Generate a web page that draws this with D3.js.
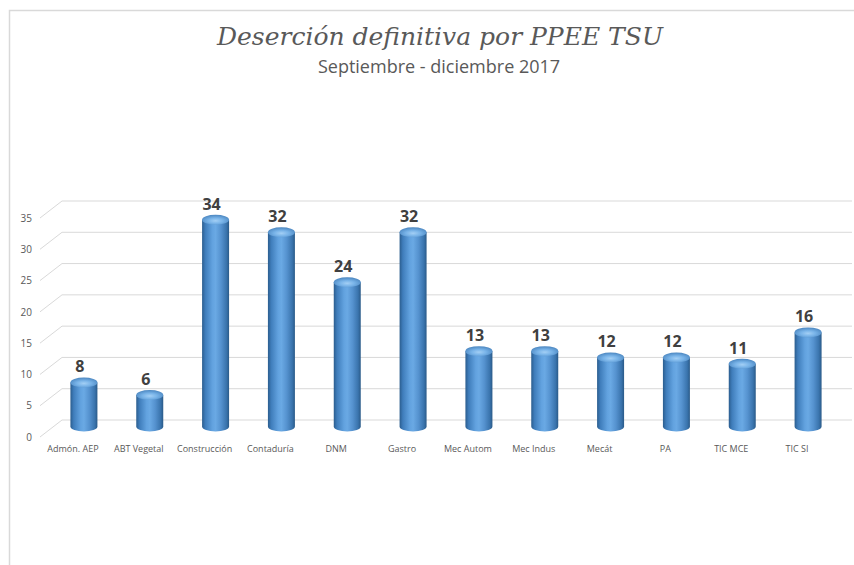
<!DOCTYPE html>
<html>
<head>
<meta charset="utf-8">
<script src="https://cdn.jsdelivr.net/npm/d3@7"></script>
<style>
  body { margin: 0; background: #fff; }
  svg { display: block; }
</style>
</head>
<body>
<svg></svg>
<script>
// Deserción definitiva por PPEE TSU - cylinder bars, fake 3D
var width = 854
var height = 565

var categories = ['Admón. AEP', 'ABT Vegetal', 'Construcción', 'Contaduría', 'DNM', 'Gastro',
                  'Mec Autom', 'Mec Indus', 'Mecát', 'PA', 'TIC MCE', 'TIC SI']
var values = [8, 6, 34, 32, 24, 32, 13, 13, 12, 12, 11, 16]
var yTicks = [0, 5, 10, 15, 20, 25, 30, 35]

// depth of the 3D box (front -> back)
var depthX = 22
var depthY = -17

var svg = d3.select('svg')
  .attr('width', width)
  .attr('height', height)

// chart border
svg.append('path')
  .attr('d', 'M9.5,' + height + 'V10.5H' + width)
  .attr('fill', 'none')
  .attr('stroke', '#d9d9d9')
  .attr('stroke-width', 1.5)

var xScale = d3.scaleBand()
  .domain(categories)
  .range([40, 830])

var yScale = d3.scaleLinear()
  .domain([0, 35])
  .range([437, 218])

var defs = svg.append('defs')

var body = defs.append('linearGradient')
  .attr('id', 'body')
  .attr('x1', 0).attr('x2', 1).attr('y1', 0).attr('y2', 0)
body.selectAll('stop')
  .data([[0, '#2b5d8e'], [0.12, '#3f7dbb'], [0.38, '#62a2df'], [0.5, '#6aa9e4'],
         [0.7, '#5592cf'], [0.9, '#3a74ad'], [1, '#2a5a88']])
  .enter().append('stop')
    .attr('offset', d => d[0])
    .attr('stop-color', d => d[1])

var cap = defs.append('radialGradient')
  .attr('id', 'cap')
  .attr('cx', 0.5).attr('cy', 0.6).attr('r', 0.6)
cap.selectAll('stop')
  .data([[0, '#a3cff5'], [0.45, '#78b3e8'], [1, '#4a85bf']])
  .enter().append('stop')
    .attr('offset', d => d[0])
    .attr('stop-color', d => d[1])

// gridlines: back wall lines + diagonal on the left side wall
var grid = svg.append('g')
grid.selectAll('.back')
  .data(yTicks)
  .enter().append('line')
    .attr('x1', xScale.range()[0] + depthX)
    .attr('x2', xScale.range()[1] + depthX)
    .attr('y1', d => yScale(d) + depthY)
    .attr('y2', d => yScale(d) + depthY)
    .attr('stroke', '#d9d9d9')
grid.selectAll('.side')
  .data(yTicks)
  .enter().append('line')
    .attr('x1', xScale.range()[0])
    .attr('x2', xScale.range()[0] + depthX)
    .attr('y1', d => yScale(d))
    .attr('y2', d => yScale(d) + depthY)
    .attr('stroke', '#d9d9d9')

// y axis labels
svg.append('g')
  .attr('transform', 'translate(' + (xScale.range()[0] - 8) + ',0)')
  .call(d3.axisLeft(yScale).tickValues(yTicks).tickSize(0).tickPadding(0))
  .call(g => g.select('.domain').remove())
  .selectAll('text')
    .attr('fill', '#595959')
    .style('font-family', 'Open Sans, sans-serif')
    .style('font-size', '10px')

// x axis labels
svg.append('g')
  .attr('transform', 'translate(0,' + (yScale(0) + 9) + ')')
  .call(d3.axisBottom(xScale).tickSize(0).tickPadding(0))
  .call(g => g.select('.domain').remove())
  .selectAll('text')
    .attr('fill', '#595959')
    .style('font-family', 'Open Sans, sans-serif')
    .style('font-size', '9px')

// cylinders sit half way into the depth
var bw = xScale.bandwidth() * 0.41
var ry = 5
var cx = d => xScale(d.cat) + xScale.bandwidth() / 2 + depthX / 2
var topY = d => yScale(d.v) + depthY / 2 + ry - 1
var baseY = yScale(0) + depthY / 2 - 2

var rows = categories.map((c, i) => ({cat: c, v: values[i]}))

var bars = svg.append('g').selectAll('g')
  .data(rows)
  .enter().append('g')

bars.append('path')
  .attr('d', d => {
    var x0 = cx(d) - bw / 2, x1 = cx(d) + bw / 2
    return 'M' + x0 + ',' + topY(d) + 'L' + x0 + ',' + baseY +
           'A' + (bw / 2) + ',' + ry + ' 0 0 0 ' + x1 + ',' + baseY +
           'L' + x1 + ',' + topY(d) + 'Z'
  })
  .attr('fill', 'url(#body)')

bars.append('ellipse')
  .attr('cx', cx)
  .attr('cy', topY)
  .attr('rx', bw / 2)
  .attr('ry', ry)
  .attr('fill', 'url(#cap)')

// data labels
bars.append('text')
  .attr('x', d => cx(d) - 4)
  .attr('y', d => topY(d) - ry - 5)
  .attr('text-anchor', 'middle')
  .attr('fill', '#404040')
  .style('font-family', 'Open Sans, sans-serif')
  .style('font-weight', 'bold')
  .style('font-size', '16px')
  .text(d => d.v)

// titles
svg.append('text')
  .attr('x', 440)
  .attr('y', 45)
  .attr('text-anchor', 'middle')
  .attr('fill', '#595959')
  .style('font-family', 'DejaVu Serif, serif')
  .style('font-style', 'italic')
  .style('font-size', '25px')
  .text('Deserción definitiva por PPEE TSU')

svg.append('text')
  .attr('x', 439)
  .attr('y', 73)
  .attr('text-anchor', 'middle')
  .attr('fill', '#595959')
  .style('font-family', 'Open Sans, sans-serif')
  .style('font-size', '18px')
  .text('Septiembre - diciembre 2017')
</script>
</body>
</html>
